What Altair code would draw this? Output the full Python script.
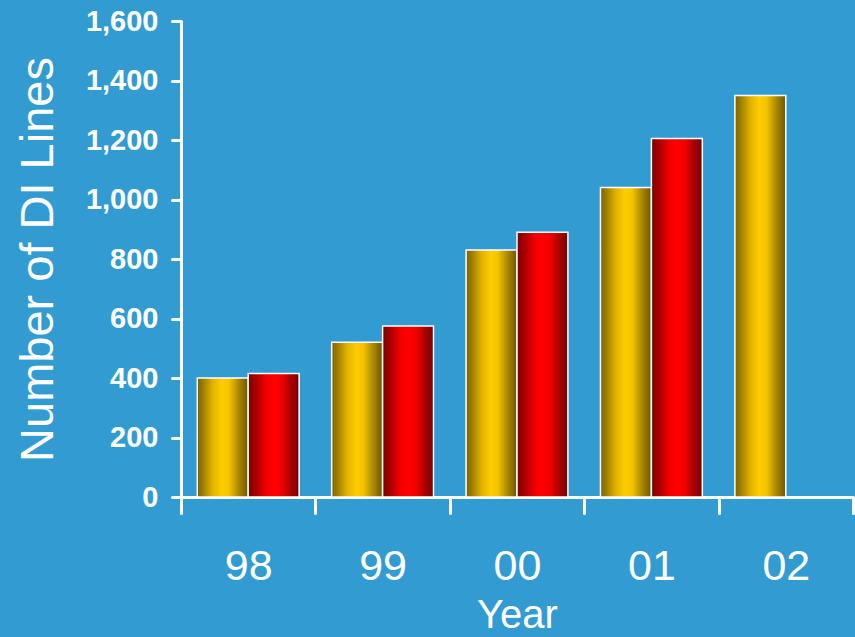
import altair as alt
import pandas as pd

# Data: number of DI lines per year, two series (second missing for 02)
years = ["98", "99", "00", "01", "02"]
series_names = ["Series 1", "Series 2"]
series_1 = [400, 520, 830, 1040, 1350]
series_2 = [415, 575, 890, 1205, None]
y_ticks = [0, 200, 400, 600, 800, 1000, 1200, 1400, 1600]

rows = []
for yr, v1, v2 in zip(years, series_1, series_2):
    rows.append({"year": yr, "series": series_names[0], "value": v1})
    if v2 is not None:
        rows.append({"year": yr, "series": series_names[1], "value": v2})
df = pd.DataFrame(rows)

FONT = "Liberation Sans"
BG = "#329cd2"

# Cylinder-like horizontal shading for each series
gold_fill = alt.LinearGradient(
    gradient="linear", x1=0, y1=0, x2=1, y2=0,
    stops=[
        alt.GradientStop(offset=0.0, color="#7a6200"),
        alt.GradientStop(offset=0.12, color="#a08000"),
        alt.GradientStop(offset=0.3, color="#e0b200"),
        alt.GradientStop(offset=0.48, color="#ffcc00"),
        alt.GradientStop(offset=0.62, color="#f6c400"),
        alt.GradientStop(offset=0.82, color="#a88600"),
        alt.GradientStop(offset=1.0, color="#6c5700"),
    ],
)
red_fill = alt.LinearGradient(
    gradient="linear", x1=0, y1=0, x2=1, y2=0,
    stops=[
        alt.GradientStop(offset=0.0, color="#7c0000"),
        alt.GradientStop(offset=0.15, color="#a80000"),
        alt.GradientStop(offset=0.35, color="#f20000"),
        alt.GradientStop(offset=0.5, color="#ff0000"),
        alt.GradientStop(offset=0.66, color="#f00000"),
        alt.GradientStop(offset=0.86, color="#a00000"),
        alt.GradientStop(offset=1.0, color="#760000"),
    ],
)

x_enc = alt.X(
    "year:N",
    sort=years,
    scale=alt.Scale(domain=years, paddingInner=0, paddingOuter=0),
    axis=alt.Axis(
        title="Year",
        tickBand="extent",
        tickSize=16,
        tickWidth=3,
        tickCap="round",
        tickColor="white",
        domainColor="white",
        domainWidth=3,
        labelAngle=0,
        labelFont=FONT,
        labelFontSize=43,
        labelColor="white",
        labelBaseline="alphabetic",
        labelPadding=66,
        titleFont=FONT,
        titleFontSize=40,
        titleFontWeight="normal",
        titleColor="white",
        titleBaseline="alphabetic",
        titleY=130,
        grid=False,
    ),
)
y_enc = alt.Y(
    "value:Q",
    scale=alt.Scale(domain=[0, 1600], nice=False),
    axis=alt.Axis(
        title="Number of DI Lines",
        values=y_ticks,
        format=",d",
        tickSize=9,
        tickWidth=3,
        tickCap="round",
        tickColor="white",
        domainColor="white",
        domainWidth=3,
        labelFont=FONT,
        labelFontSize=29,
        labelFontWeight="bold",
        labelColor="white",
        labelPadding=14,
        titleFont=FONT,
        titleFontSize=47,
        titleFontWeight="normal",
        titleColor="white",
        titleAngle=270,
        titleBaseline="alphabetic",
        titleX=-129,
        titleY=238,
        grid=False,
    ),
)
offset_enc = alt.XOffset(
    "series:N",
    scale=alt.Scale(domain=series_names, paddingInner=0, paddingOuter=0.32),
)

base = alt.Chart(df).encode(x=x_enc, y=y_enc, xOffset=offset_enc)

gold = base.transform_filter(alt.datum.series == series_names[0]).mark_bar(
    fill=gold_fill, stroke="white", strokeWidth=1.5
)
red = base.transform_filter(alt.datum.series == series_names[1]).mark_bar(
    fill=red_fill, stroke="white", strokeWidth=1.5
)

chart = (
    alt.layer(gold, red)
    .properties(
        width=672,
        height=476,
        autosize=alt.AutoSizeParams(type="none"),
        padding={"left": 181, "top": 21, "right": 2, "bottom": 140},
        background=BG,
    )
    .configure_view(stroke=None)
)

chart.save("out.html", embed_options={"renderer": "svg", "actions": False})
